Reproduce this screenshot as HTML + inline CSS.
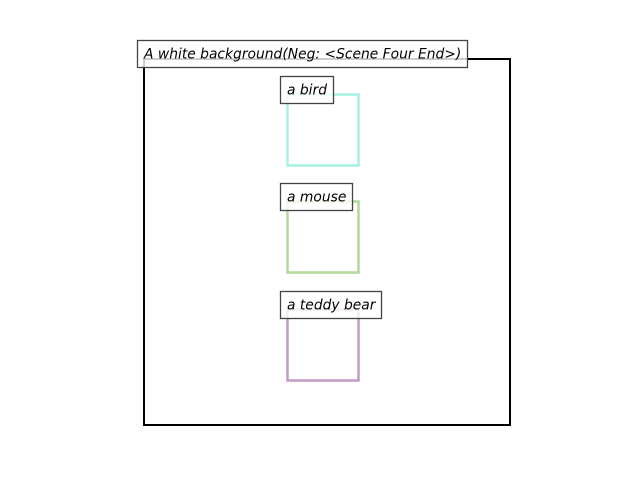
<!DOCTYPE html>
<html><head><style>body{margin:0;background:#fff}</style></head><body>
<svg width="640" height="480" xmlns="http://www.w3.org/2000/svg" style="display:block">
<rect x="0" y="0" width="640" height="480" fill="#fff"/>
<rect x="144" y="59" width="366" height="366" fill="none" stroke="#000" stroke-width="2"/>
<rect x="287.5" y="94.5" width="71" height="71" fill="none" stroke="#a6f0e6" stroke-width="2.5"/>
<rect x="287.5" y="201.5" width="71" height="71" fill="none" stroke="#b2d89c" stroke-width="2.5"/>
<rect x="287.5" y="309.5" width="71" height="71" fill="none" stroke="#c29cc4" stroke-width="2.5"/>
<g font-family="DejaVu Sans, sans-serif" font-style="italic" font-size="13.85" fill="#000">
<rect x="137.5" y="40.5" width="330" height="27" fill="#fff" fill-opacity="0.8" stroke="#444" stroke-width="1.3"/>
<text x="144" y="58.5">A white background(Neg: &lt;Scene Four End&gt;)</text>
<rect x="280.5" y="76.5" width="53" height="27" fill="#fff" fill-opacity="0.8" stroke="#444" stroke-width="1.3"/>
<text x="287" y="94.5">a bird</text>
<rect x="280.5" y="183.5" width="72" height="27" fill="#fff" fill-opacity="0.8" stroke="#444" stroke-width="1.3"/>
<text x="287" y="201.5">a mouse</text>
<rect x="280.5" y="291.5" width="101" height="27" fill="#fff" fill-opacity="0.8" stroke="#444" stroke-width="1.3"/>
<text x="287" y="309.5">a teddy bear</text>
</g>
</svg>
</body></html>
